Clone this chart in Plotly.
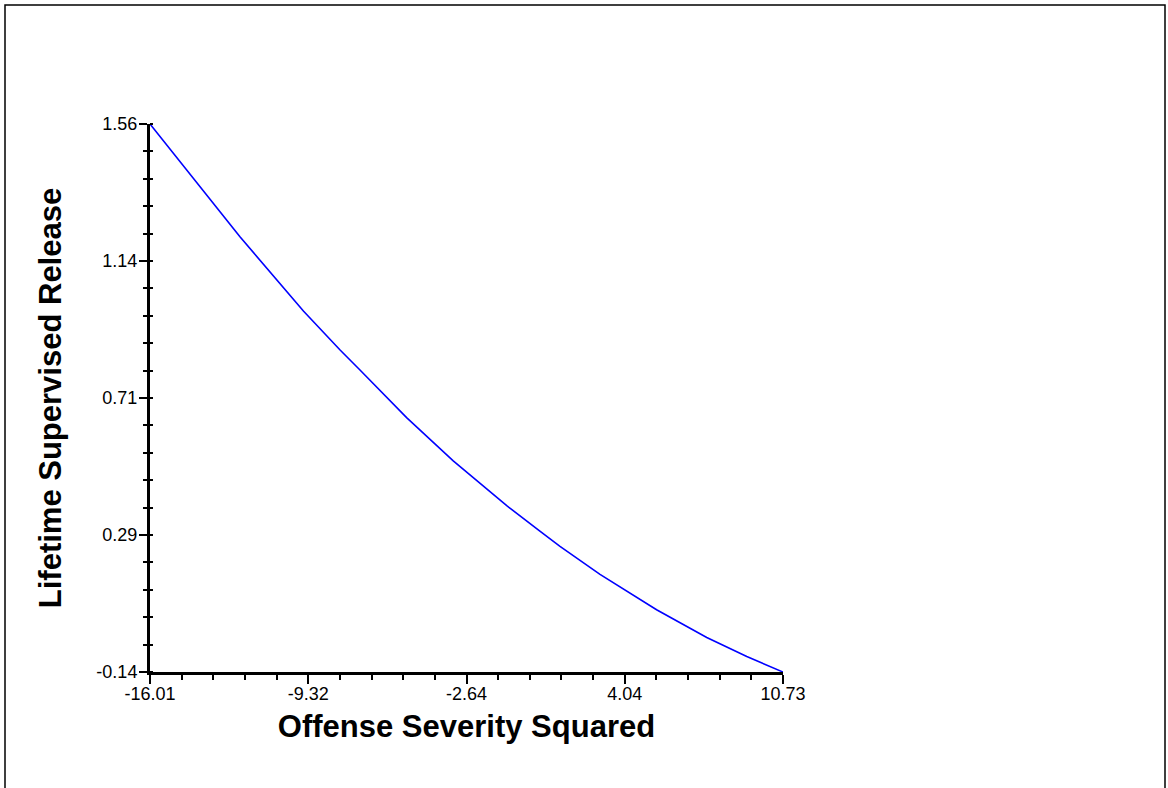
import plotly.graph_objects as go

# Predicted lifetime supervised release across offense severity squared
severity_sq = [-16.01, -12.21, -9.53, -7.98, -7.14, -5.17, -3.20, -0.94,
               0.46, 1.31, 3.00, 5.39, 7.51, 9.20, 10.73]
release = [1.56, 1.210, 0.980, 0.859, 0.797, 0.649, 0.515, 0.376,
           0.297, 0.250, 0.163, 0.053, -0.033, -0.092, -0.14]

x_tickvals = [-16.01, -9.325, -2.64, 4.045, 10.73]
x_ticktext = ["-16.01", "-9.32", "-2.64", "4.04", "10.73"]
y_tickvals = [-0.14, 0.285, 0.71, 1.135, 1.56]
y_ticktext = ["-0.14", "0.29", "0.71", "1.14", "1.56"]

FONT = "Liberation Sans, Arial, sans-serif"
W, H = 1168, 788
L, R, T, B = 150, 385, 124, 116
plot_w = W - L - R
plot_h = H - T - B

fig = go.Figure()
fig.add_trace(go.Scatter(
    x=severity_sq, y=release, mode="lines",
    line=dict(color="#0000ff", width=1.6),
    showlegend=False, hoverinfo="skip",
))
# companion trace carrying the overlay axis used for the inner half of minor ticks
fig.add_trace(go.Scatter(
    x=severity_sq, y=release, mode="lines", yaxis="y2",
    line=dict(color="rgba(0,0,0,0)", width=0),
    showlegend=False, hoverinfo="skip",
))

x_step = (x_tickvals[-1] - x_tickvals[0]) / 20
y_step = (y_tickvals[-1] - y_tickvals[0]) / 20

fig.update_layout(
    width=W, height=H,
    margin=dict(l=L, r=R, t=T, b=B),
    paper_bgcolor="white", plot_bgcolor="white",
    font=dict(family=FONT, color="black", size=18),
    xaxis=dict(
        range=[x_tickvals[0], x_tickvals[-1]],
        tickmode="array", tickvals=x_tickvals, ticktext=x_ticktext,
        ticks="outside", ticklen=9, tickwidth=2, tickcolor="black",
        ticklabelstandoff=-6,
        showline=True, linecolor="black", linewidth=3,
        showgrid=False, zeroline=False,
        tickfont=dict(size=18),
        minor=dict(tickmode="linear", tick0=x_tickvals[0], dtick=x_step,
                   ticks="outside", ticklen=5, tickwidth=2, tickcolor="black",
                   showgrid=False),
        title=dict(text="<b>Offense Severity Squared</b>",
                   font=dict(size=31), standoff=13),
    ),
    yaxis=dict(
        range=[y_tickvals[0], y_tickvals[-1]],
        tickmode="array", tickvals=y_tickvals, ticktext=y_ticktext,
        ticks="outside", ticklen=8, tickwidth=2, tickcolor="black",
        ticklabelstandoff=-2,
        showline=True, linecolor="black", linewidth=3,
        showgrid=False, zeroline=False,
        tickfont=dict(size=18),
        minor=dict(tickmode="linear", tick0=y_tickvals[0], dtick=y_step,
                   ticks="outside", ticklen=4, tickwidth=2, tickcolor="black",
                   showgrid=False),
        title=dict(text="<b>Lifetime Supervised Release</b>",
                   font=dict(size=31), standoff=26),
    ),
    yaxis2=dict(
        overlaying="y", side="left",
        range=[y_tickvals[0], y_tickvals[-1]],
        tickmode="array", tickvals=y_tickvals, ticks="",
        showticklabels=False, showline=False,
        showgrid=False, zeroline=False,
        minor=dict(tickmode="linear", tick0=y_tickvals[0], dtick=y_step,
                   ticks="inside", ticklen=3, tickwidth=2, tickcolor="black",
                   showgrid=False),
    ),
)

# outer frame around the whole graphic
fig.add_shape(
    type="rect", xref="paper", yref="paper",
    x0=(5 - L) / plot_w, x1=(1165 - L) / plot_w,
    y0=(H - B - 795) / plot_h, y1=(H - B - 5) / plot_h,
    line=dict(color="black", width=1.5), fillcolor="rgba(0,0,0,0)",
    layer="below",
)

fig.write_html("out.html")
